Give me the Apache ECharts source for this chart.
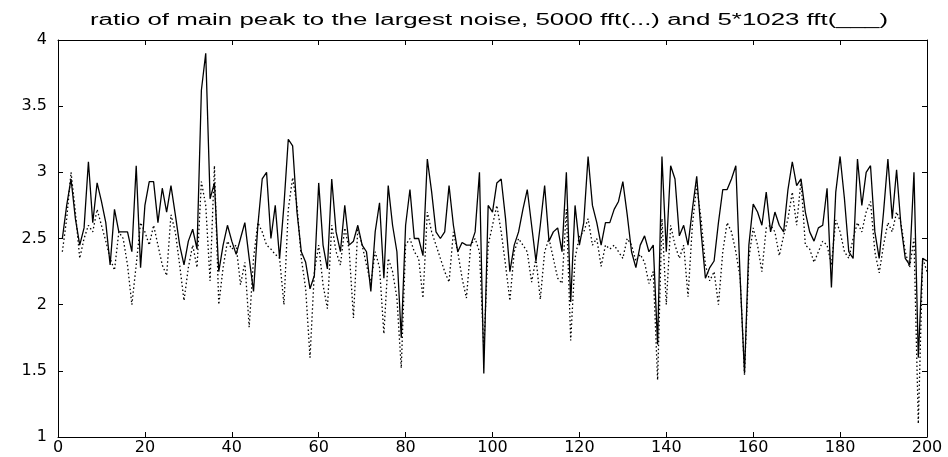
<!DOCTYPE html>
<html>
<head>
<meta charset="utf-8">
<script src="https://cdn.jsdelivr.net/npm/echarts@6/dist/echarts.min.js"></script>
<style>
html,body{margin:0;padding:0;background:#fff;}
#chart{width:948px;height:457px;}
</style>
</head>
<body>
<div id="chart"></div>
<script>
var titleText = 'ratio of main peak to the largest noise, 5000 fft(...) and 5*1023 fft(___)';
var xTicks = [0, 20, 40, 60, 80, 100, 120, 140, 160, 180, 200];
var yTicks = [1, 1.5, 2, 2.5, 3, 3.5, 4];

// 5*1023 fft (solid line), samples 1..200
var fft1023x5 = [
2.50,2.75,2.95,2.65,2.45,2.58,3.08,2.62,2.92,2.78,
2.62,2.30,2.72,2.55,2.55,2.55,2.40,3.05,2.28,2.75,
2.93,2.93,2.62,2.88,2.70,2.90,2.68,2.45,2.30,2.48,
2.57,2.42,3.62,3.90,2.80,2.92,2.25,2.45,2.60,2.48,
2.38,2.50,2.62,2.35,2.10,2.60,2.95,3.00,2.50,2.75,
2.35,2.75,3.25,3.20,2.70,2.40,2.32,2.12,2.22,2.92,
2.45,2.27,2.95,2.55,2.40,2.75,2.45,2.48,2.60,2.45,
2.40,2.10,2.55,2.77,2.20,2.90,2.60,2.40,1.75,2.60,
2.87,2.50,2.50,2.37,3.10,2.85,2.55,2.50,2.55,2.90,
2.60,2.40,2.47,2.45,2.45,2.55,3.00,1.48,2.75,2.70,
2.92,2.95,2.65,2.25,2.45,2.55,2.72,2.87,2.60,2.33,
2.60,2.90,2.48,2.55,2.58,2.40,3.00,2.02,2.75,2.45,
2.62,3.12,2.75,2.62,2.45,2.62,2.62,2.72,2.78,2.93,
2.68,2.40,2.28,2.45,2.52,2.40,2.45,1.70,3.12,2.40,
3.05,2.95,2.52,2.60,2.45,2.72,2.97,2.55,2.20,2.28,
2.33,2.62,2.87,2.87,2.95,3.05,2.20,1.48,2.45,2.76,
2.70,2.60,2.85,2.55,2.70,2.60,2.55,2.87,3.08,2.90,
2.95,2.70,2.55,2.48,2.58,2.60,2.88,2.13,2.85,3.12,
2.80,2.40,2.35,3.10,2.75,3.00,3.05,2.55,2.35,2.70,
3.10,2.65,3.02,2.60,2.35,2.30,3.00,1.60,2.35,2.33
];

// 5000 fft (dotted line), samples 1..200
var fft5000 = [
2.40,2.65,3.00,2.70,2.35,2.50,2.60,2.55,2.72,2.60,
2.48,2.35,2.26,2.55,2.50,2.30,2.00,2.30,2.62,2.55,
2.45,2.60,2.45,2.30,2.22,2.68,2.55,2.30,2.03,2.28,
2.45,2.28,2.93,2.75,2.18,3.05,2.00,2.28,2.48,2.42,
2.45,2.15,2.32,1.83,2.35,2.62,2.55,2.45,2.42,2.38,
2.35,2.00,2.72,2.96,2.75,2.35,2.12,1.60,2.25,2.45,
2.15,1.97,2.60,2.40,2.30,2.58,2.42,1.90,2.58,2.45,
2.30,2.16,2.40,2.28,1.78,2.35,2.25,2.05,1.52,2.45,
2.50,2.40,2.35,2.05,2.70,2.55,2.45,2.35,2.25,2.17,
2.55,2.40,2.20,2.05,2.45,2.50,2.40,1.66,2.45,2.60,
2.75,2.55,2.30,2.03,2.40,2.50,2.45,2.40,2.17,2.35,
2.04,2.40,2.50,2.35,2.20,2.16,2.72,1.73,2.35,2.52,
2.55,2.65,2.45,2.50,2.29,2.45,2.42,2.45,2.40,2.35,
2.50,2.45,2.33,2.38,2.32,2.16,2.25,1.43,2.65,2.00,
2.60,2.45,2.35,2.45,2.06,2.60,2.90,2.65,2.30,2.18,
2.25,2.00,2.40,2.62,2.55,2.40,2.20,1.47,2.35,2.58,
2.45,2.25,2.58,2.60,2.55,2.37,2.52,2.65,2.85,2.60,
2.94,2.45,2.42,2.32,2.40,2.48,2.45,2.30,2.64,2.55,
2.40,2.35,2.50,2.62,2.55,2.70,2.78,2.40,2.24,2.45,
2.62,2.55,2.70,2.62,2.40,2.28,2.50,1.10,2.35,2.25
];

var sampleIndex = fft5000.map(function (v, i) { return i + 1; });

function pairs(vals) {
  return vals.map(function (v, i) { return [sampleIndex[i], v]; });
}

var labelFont = 'DejaVu Sans, Verdana, sans-serif';
var titleFontFamily = 'Liberation Sans, Arial, sans-serif';
var titleFontSize = 16;
var titleTargetWidth = 798;
var cv = document.createElement('canvas').getContext('2d');
cv.font = titleFontSize + 'px ' + titleFontFamily;
var titleScale = titleTargetWidth / cv.measureText(titleText).width;

var axisCommon = {
  type: 'value',
  axisLine: { show: true, onZero: false, lineStyle: { color: '#000', width: 1 } },
  axisTick: { show: true, inside: true, length: 5, lineStyle: { color: '#000' } },
  splitLine: { show: false }
};

function mk(base, extra) {
  var o = JSON.parse(JSON.stringify(base));
  for (var k in extra) o[k] = extra[k];
  return o;
}

var chart = echarts.init(document.getElementById('chart'), null, { renderer: 'canvas' });
chart.setOption({
  animation: false,
  backgroundColor: '#fff',
  graphic: [{
    type: 'text',
    x: 489,
    y: 21,
    scaleX: titleScale,
    style: {
      text: titleText,
      font: titleFontSize + 'px ' + titleFontFamily,
      fill: '#000',
      textAlign: 'center',
      textVerticalAlign: 'middle'
    }
  }],
  grid: { left: 58, right: 21, top: 40, bottom: 20, containLabel: false },
  xAxis: [
    mk(axisCommon, {
      position: 'bottom', min: xTicks[0], max: xTicks[xTicks.length - 1], interval: 20,
      axisLabel: { color: '#000', fontFamily: labelFont, fontSize: 16, margin: 3 }
    }),
    mk(axisCommon, {
      position: 'top', min: xTicks[0], max: xTicks[xTicks.length - 1], interval: 20,
      axisLabel: { show: false }
    })
  ],
  yAxis: [
    mk(axisCommon, {
      position: 'left', min: yTicks[0], max: yTicks[yTicks.length - 1], interval: 0.5,
      axisLabel: { color: '#000', fontFamily: labelFont, fontSize: 16, margin: 11,
        formatter: function (v) { return String(v); } }
    }),
    mk(axisCommon, {
      position: 'right', min: yTicks[0], max: yTicks[yTicks.length - 1], interval: 0.5,
      axisLabel: { show: false }
    })
  ],
  series: [
    {
      name: '5000 fft', type: 'line', data: pairs(fft5000), showSymbol: false, symbol: 'none',
      lineStyle: { color: '#000', width: 1.3, type: [1.5, 2.5] }, z: 2
    },
    {
      name: '5*1023 fft', type: 'line', data: pairs(fft1023x5), showSymbol: false, symbol: 'none',
      lineStyle: { color: '#000', width: 1.3, type: 'solid' }, z: 3
    }
  ]
});
</script>
</body>
</html>
